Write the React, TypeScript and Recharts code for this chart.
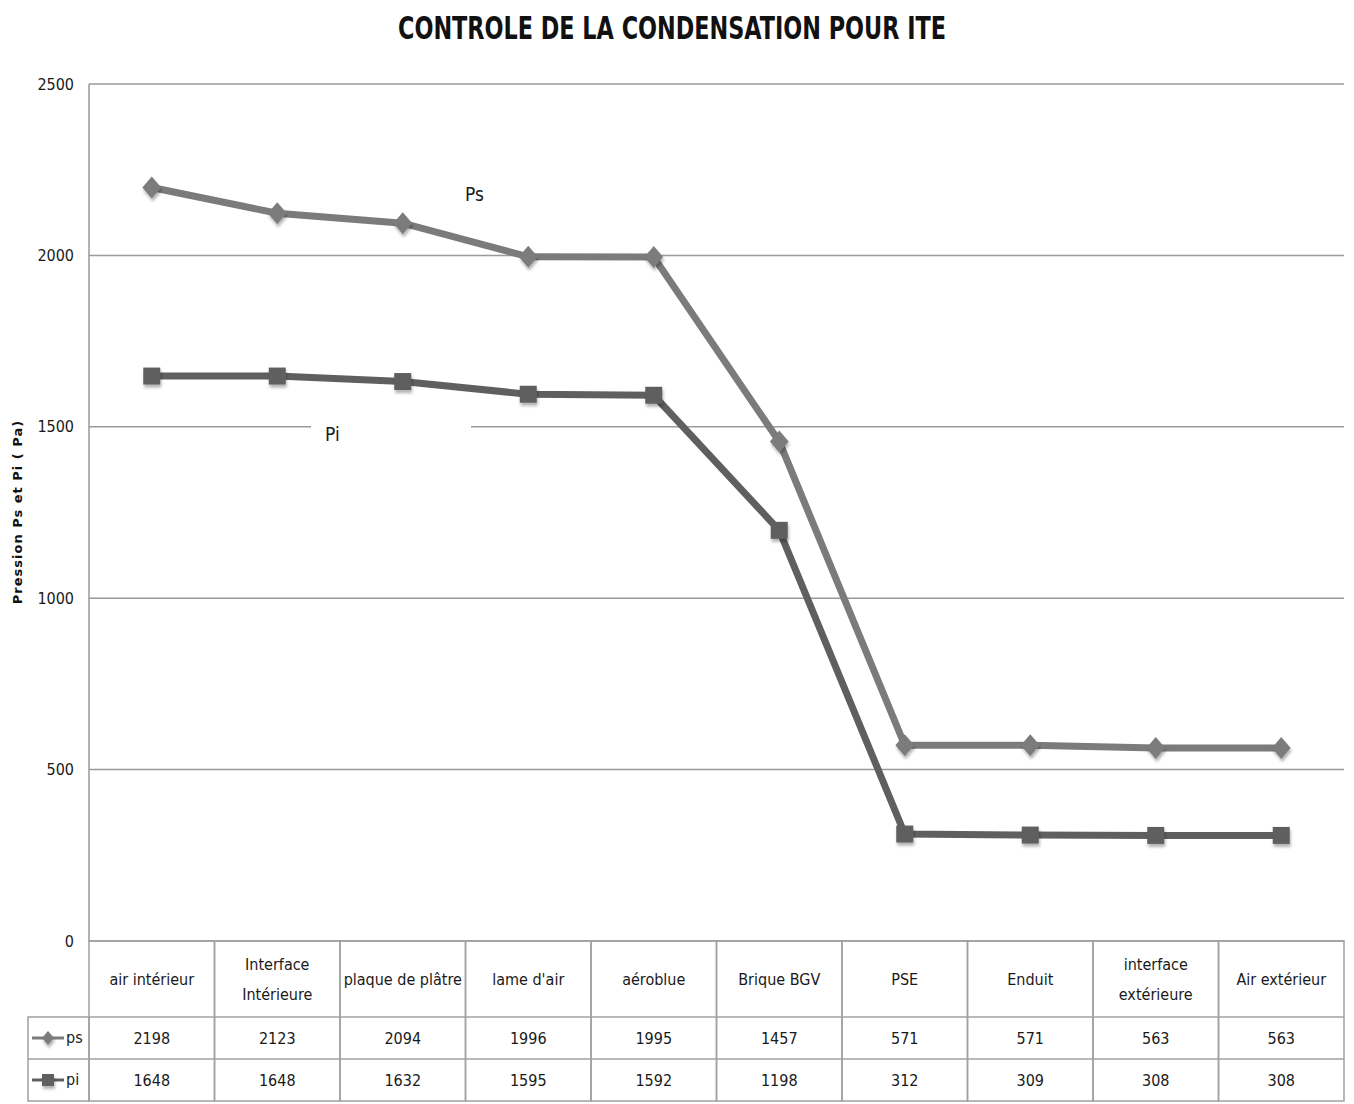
import React from 'react';
import { LineChart, Line, XAxis, YAxis, CartesianGrid, Customized } from 'recharts';

const categories = [
  'air intérieur',
  'Interface\nIntérieure',
  'plaque de plâtre',
  "lame d'air",
  'aéroblue',
  'Brique BGV',
  'PSE',
  'Enduit',
  'interface\nextérieure',
  'Air extérieur',
];
const psValues = [2198, 2123, 2094, 1996, 1995, 1457, 571, 571, 563, 563];
const piValues = [1648, 1648, 1632, 1595, 1592, 1198, 312, 309, 308, 308];
const yTicks = [0, 500, 1000, 1500, 2000, 2500];

const data = categories.map((cat, i) => ({ cat, ps: psValues[i], pi: piValues[i] }));

const W = 1354;
const H = 1104;
const LEFT = 89;
const RIGHT = 10;
const TABLE_H = 163;
const CELL_W = (W - LEFT - RIGHT) / categories.length;
const FONT = "'DejaVu Sans Condensed', 'DejaVu Sans', sans-serif";
const PS_COLOR = '#7b7b7b';
const PI_COLOR = '#5f5f5f';
const BORDER = '#a0a0a0';

const Diamond = (props: any) => {
  const { cx, cy, r = 8, fill } = props;
  if (cx == null || cy == null) return null;
  return <path d={`M${cx},${cy - r} L${cx + r * 0.85},${cy} L${cx},${cy + r} L${cx - r * 0.85},${cy} Z`} fill={fill} filter="url(#shadow)" />;
};

const Square = (props: any) => {
  const { cx, cy, r = 8, fill } = props;
  if (cx == null || cy == null) return null;
  return <rect x={cx - r} y={cy - r} width={r * 2} height={r * 2} fill={fill} filter="url(#shadow)" />;
};

// bottom data table, drawn one column per tick
const TableTick = (props: any) => {
  const { x, y, payload } = props;
  const i = payload.index;
  const left = x - CELL_W / 2;
  const lines = String(payload.value).split('\n');
  const r1 = 76;
  const r2 = 42;
  return (
    <g fontFamily={FONT} fontSize={16} fill="#1a1a1a" style={{ fontStretch: 'condensed' }}>
      <rect x={left} y={y} width={CELL_W} height={r1 + r2 * 2} fill="none" stroke={BORDER} strokeWidth={1.5} />
      <line x1={left} x2={left + CELL_W} y1={y + r1} y2={y + r1} stroke={BORDER} strokeWidth={1.5} />
      <line x1={left} x2={left + CELL_W} y1={y + r1 + r2} y2={y + r1 + r2} stroke={BORDER} strokeWidth={1.5} />
      <text x={x} y={y + r1 / 2 - (lines.length - 1) * 15 + 6} textAnchor="middle" fill="#1a1a1a">
        {lines.map((l, k) => (
          <tspan key={k} x={x} dy={k === 0 ? 0 : 30}>{l}</tspan>
        ))}
      </text>
      <text x={x} y={y + r1 + r2 / 2 + 6} textAnchor="middle" fill="#1a1a1a">{psValues[i]}</text>
      <text x={x} y={y + r1 + r2 + r2 / 2 + 6} textAnchor="middle" fill="#1a1a1a">{piValues[i]}</text>
      {i === 0 && (
        <g>
          <rect x={28} y={y + r1} width={left - 28} height={r2 * 2} fill="none" stroke={BORDER} strokeWidth={1.5} />
          <line x1={28} x2={left} y1={y + r1 + r2} y2={y + r1 + r2} stroke={BORDER} strokeWidth={1.5} />
          <line x1={32} x2={64} y1={y + r1 + r2 / 2} y2={y + r1 + r2 / 2} stroke={PS_COLOR} strokeWidth={3} />
          <Diamond cx={48} cy={y + r1 + r2 / 2} r={7} fill={PS_COLOR} />
          <text x={66} y={y + r1 + r2 / 2 + 5}>ps</text>
          <line x1={32} x2={64} y1={y + r1 + r2 * 1.5} y2={y + r1 + r2 * 1.5} stroke={PI_COLOR} strokeWidth={3} />
          <Square cx={48} cy={y + r1 + r2 * 1.5} r={6} fill={PI_COLOR} />
          <text x={66} y={y + r1 + r2 * 1.5 + 5}>pi</text>
        </g>
      )}
    </g>
  );
};

const Annotations = () => (
  <g fontFamily={FONT} style={{ fontStretch: 'condensed' }}>
    <defs>
      <filter id="shadow" x="-50%" y="-50%" width="200%" height="200%">
        <feDropShadow dx="1" dy="3" stdDeviation="1.5" floodColor="#000" floodOpacity="0.3" />
      </filter>
    </defs>
    <text
      x={672}
      y={39}
      textAnchor="middle"
      fontSize={32}
      fontWeight="bold"
      fill="#111"
      textLength={548}
      lengthAdjust="spacingAndGlyphs"
    >
      CONTROLE DE LA CONDENSATION POUR ITE
    </text>
    <text
      x={22}
      y={512}
      transform="rotate(-90 22 512)"
      textAnchor="middle"
      fontSize={13}
      fontWeight="bold"
      letterSpacing={1}
      fontFamily="'DejaVu Sans', sans-serif"
      fill="#111"
      style={{ fontStretch: 'normal' }}
    >
      Pression Ps et Pi ( Pa)
    </text>
    <text x={465} y={201} fontSize={19} fill="#1a1a1a">Ps</text>
    <rect x={311} y={422} width={160} height={8} fill="#fff" />
    <text x={325} y={441} fontSize={19} fill="#1a1a1a">Pi</text>
  </g>
);

export default function App() {
  return (
    <div style={{ position: 'absolute', left: 0, top: 0, width: W, height: H, background: '#fff' }}>
      <LineChart width={W} height={H} data={data} margin={{ top: 84, right: RIGHT, bottom: 0, left: 0 }}>
        <CartesianGrid vertical={false} stroke="#999" strokeWidth={1.5} />
        <XAxis
          dataKey="cat"
          height={TABLE_H}
          interval={0}
          tickSize={0}
          tickMargin={0}
          axisLine={false}
          tickLine={false}
          padding={{ left: CELL_W / 2, right: CELL_W / 2 }}
          tick={<TableTick />}
        />
        <YAxis
          width={LEFT}
          domain={[0, 2500]}
          ticks={yTicks}
          tickSize={0}
          tickMargin={15}
          tickLine={false}
          axisLine={{ stroke: '#999', strokeWidth: 1.5 }}
          tick={{ fontFamily: FONT, fontSize: 16, fill: '#1a1a1a', style: { fontStretch: 'condensed' } }}
        />
        <Customized component={Annotations} />
        <Line
          dataKey="ps"
          stroke={PS_COLOR}
          strokeWidth={7}
          dot={<Diamond r={11} fill={PS_COLOR} />}
          activeDot={false}
          isAnimationActive={false}
        />
        <Line
          dataKey="pi"
          stroke={PI_COLOR}
          strokeWidth={7}
          dot={<Square r={8.5} fill={PI_COLOR} />}
          activeDot={false}
          isAnimationActive={false}
        />
      </LineChart>
    </div>
  );
}
